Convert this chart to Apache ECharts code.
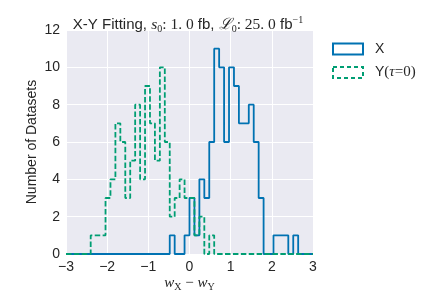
<!DOCTYPE html>
<html>
<head>
<meta charset="utf-8">
<script src="https://cdn.jsdelivr.net/npm/echarts@6/dist/echarts.min.js"></script>
<style>html,body{margin:0;padding:0;background:#fff}#c{width:436px;height:300px}</style>
</head>
<body>
<div id="c"></div>
<script>
// Histogram bins: 50 uniform bins over [-3, 3]
const binLow = -3;
const binHigh = 3;
const nBins = 50;
// counts per bin
const countsX = [0,0,0,0,0,0,0,0,0,0, 0,0,0,0,0,0,0,0,0,0, 0,1,0,0,1,3,1,4,3,6, 11,10,6,10,9,7,7,8,6,3, 0,0,1,1,1,0,1,0,0,0];
const countsY = [0,0,0,0,0,1,1,1,3,4, 7,6,3,5,8,4,9,7,5,10, 6,2,3,4,3,3,1,2,0,1, 0,0,0,0,0,0,0,0,0,0, 0,0,0,0,0,0,0,0,0,0];
const xTicks = [-3,-2,-1,0,1,2,3];
const yTicks = [0,2,4,6,8,10,12];
const seriesNames = ['X', 'Y(τ=0)'];
const colors = ['#0072B2', '#009E73'];

const width = (binHigh - binLow) / nBins;
function stepData(counts) {
  const pts = [];
  for (let k = 0; k < counts.length; k++) pts.push([+(binLow + k * width).toFixed(4), counts[k]]);
  pts.push([binHigh, counts[counts.length - 1]]);
  return pts;
}
const fam = 'Liberation Sans, Arial, sans-serif';
const serif = 'Liberation Serif, DejaVu Serif, serif';
const txt = '#262626';
const chart = echarts.init(document.getElementById('c'), null, {renderer: 'canvas'});
chart.setOption({
  animation: false,
  backgroundColor: '#ffffff',
  title: {
    text: 'X-Y Fitting, {i|s}{sub|0}{m|: 1. 0} fb, {L|ℒ}{sub|0}{m|: 25. 0} fb{sup|−1}',
    left: 183, top: 10, textAlign: 'center',
    textStyle: {
      fontFamily: fam, fontSize: 15, fontWeight: 'normal', color: txt, lineHeight: 19,
      rich: {
        i: {fontFamily: serif, fontStyle: 'italic', fontSize: 15.5, color: txt, lineHeight: 19},
        m: {fontFamily: serif, fontSize: 15.5, color: txt, lineHeight: 19},
        L: {fontFamily: serif, fontStyle: 'italic', fontSize: 15.5, color: txt, lineHeight: 19},
        sub: {fontFamily: serif, fontSize: 10, color: txt, lineHeight: 10, verticalAlign: 'bottom'},
        sup: {fontFamily: serif, fontSize: 10, color: txt, lineHeight: 10, verticalAlign: 'top'}
      }
    }
  },
  legend: {
    orient: 'vertical', left: 327, top: 37,
    itemWidth: 30, itemHeight: 11, itemGap: 9, icon: 'rect',
    textStyle: {fontFamily: fam, fontSize: 14, color: txt, padding: [0, 0, 0, 7],
      rich: {
        m: {fontFamily: serif, fontSize: 15, color: txt},
        i: {fontFamily: serif, fontStyle: 'italic', fontSize: 15, color: txt}
      }},
    formatter: name => name === 'X' ? 'X' : 'Y{m|(}{i|τ}{m|=0)}',
    data: [
      {name: seriesNames[0], itemStyle: {color: 'rgba(0,0,0,0)', borderColor: colors[0], borderWidth: 2}},
      {name: seriesNames[1], itemStyle: {color: 'rgba(0,0,0,0)', borderColor: colors[1], borderWidth: 2, borderType: [4, 3]}}
    ]
  },
  grid: {left: 66, right: 123, top: 30, bottom: 46, show: true, backgroundColor: '#EAEAF2', borderWidth: 0},
  xAxis: {
    type: 'value', min: -3, max: 3, interval: 1,
    axisLine: {show: false}, axisTick: {show: false},
    splitLine: {show: true, lineStyle: {color: '#ffffff', width: 1}},
    axisLabel: {fontFamily: fam, fontSize: 14, color: txt, margin: 6,
      formatter: v => String(v).replace('-', '−')},
    name: '{w|w}{s|X}{m| − }{w|w}{s|Y}', nameLocation: 'middle', nameGap: 20, nameMoveOverlap: false,
    nameTextStyle: {
      rich: {
        w: {fontFamily: serif, fontStyle: 'italic', fontSize: 15, color: txt, lineHeight: 18},
        m: {fontFamily: serif, fontSize: 15, color: txt, lineHeight: 18},
        s: {fontFamily: serif, fontSize: 10, color: txt, lineHeight: 10, verticalAlign: 'bottom'}
      }
    }
  },
  yAxis: {
    type: 'value', min: 0, max: 12, interval: 2,
    axisLine: {show: false}, axisTick: {show: false},
    splitLine: {show: true, lineStyle: {color: '#ffffff', width: 1}},
    axisLabel: {fontFamily: fam, fontSize: 14, color: txt, margin: 6},
    name: 'Number of Datasets', nameLocation: 'middle', nameGap: 27, nameMoveOverlap: false,
    nameTextStyle: {fontFamily: fam, fontSize: 14, color: txt}
  },
  series: [
    {name: seriesNames[0], type: 'line', step: 'end', showSymbol: false, symbol: 'none',
     data: stepData(countsX), lineStyle: {color: colors[0], width: 1.8}, itemStyle: {color: colors[0]}, z: 2},
    {name: seriesNames[1], type: 'line', step: 'end', showSymbol: false, symbol: 'none',
     data: stepData(countsY), lineStyle: {color: colors[1], width: 1.8, type: [5.5, 2.4]}, itemStyle: {color: colors[1]}, z: 3}
  ]
});
</script>
</body>
</html>
